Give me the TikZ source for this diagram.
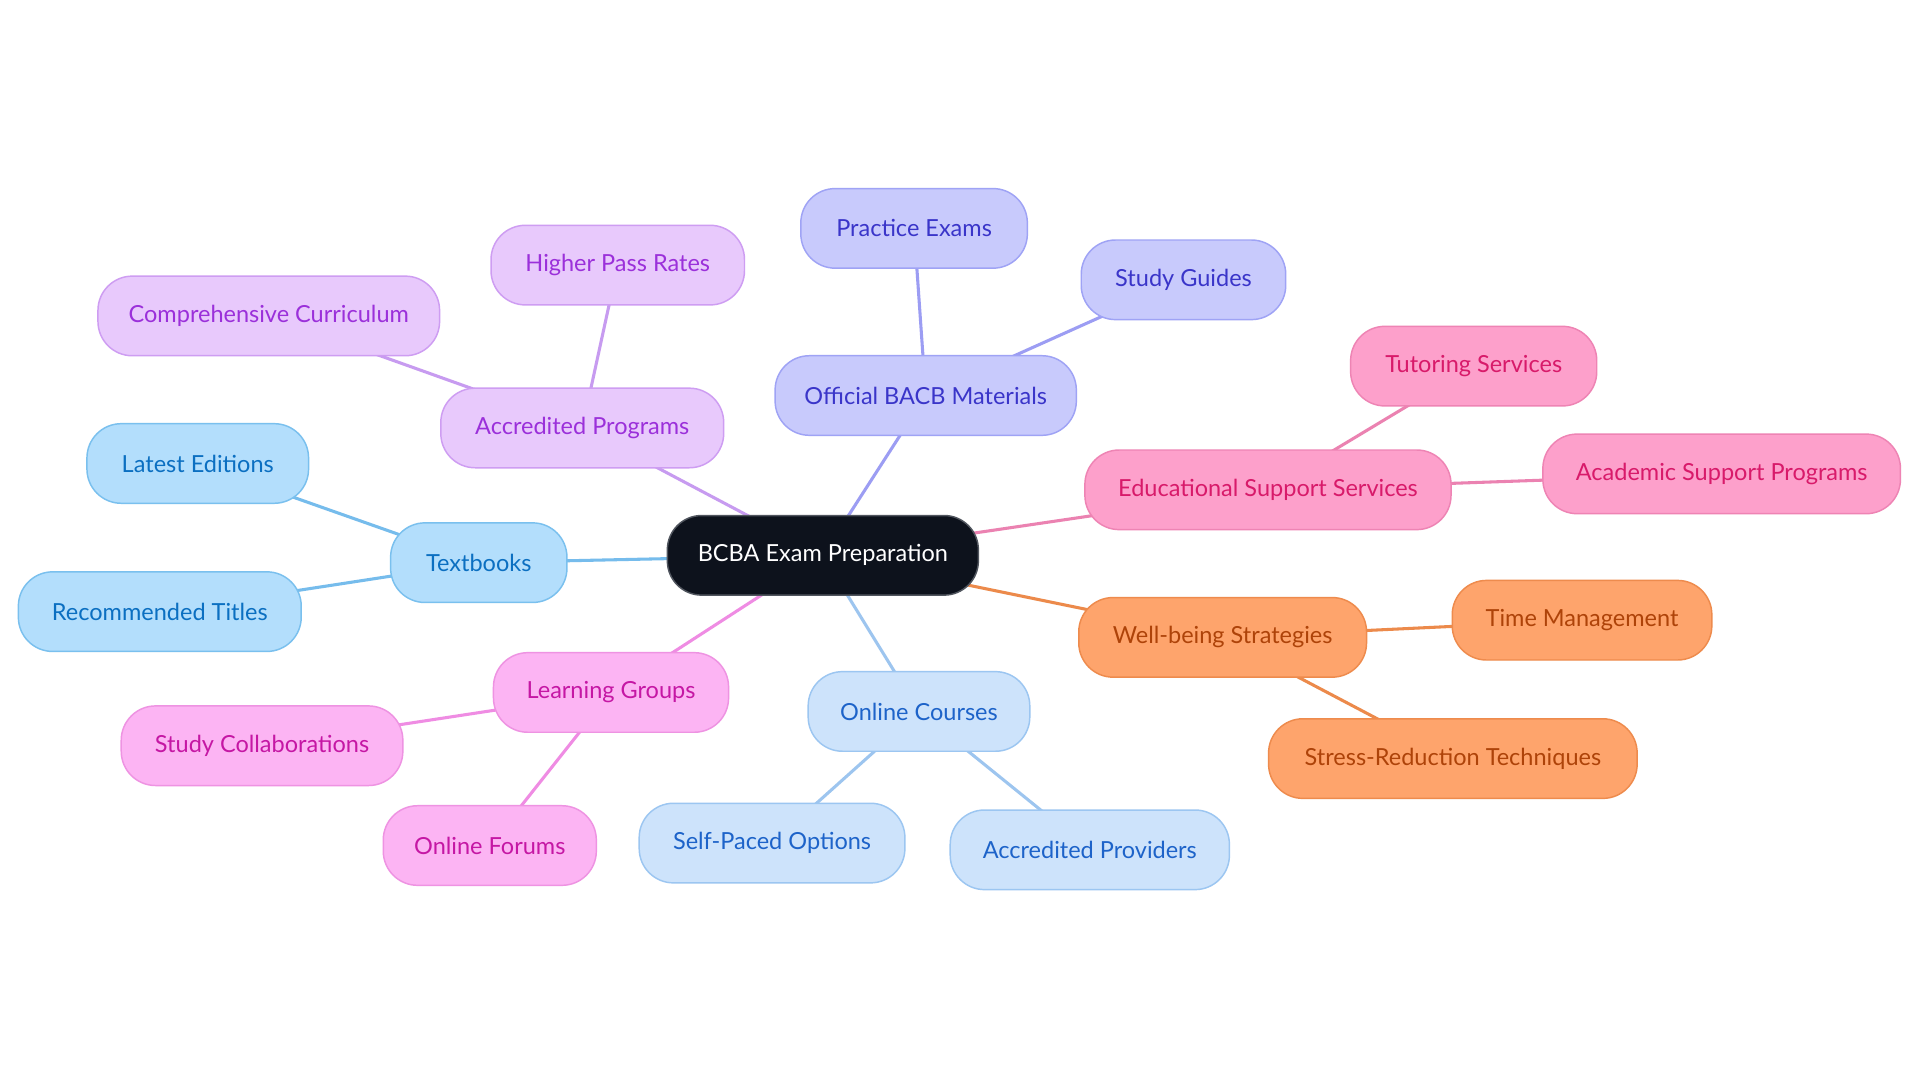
\documentclass[tikz,border=0pt]{standalone}
\usepackage{fontspec}
\setmainfont{Lato}
\usetikzlibrary{backgrounds}
\pgfdeclarelayer{canvas}
\pgfsetlayers{canvas,background,main}
\definecolor{bgW}{HTML}{FFFFFF}
\definecolor{cF}{HTML}{0D121C}\definecolor{cD}{HTML}{50555E}
\definecolor{bF}{HTML}{B3DEFC}\definecolor{bD}{HTML}{7AC0EE}\definecolor{bT}{HTML}{0B6FC1}\definecolor{bE}{HTML}{76BCEC}
\definecolor{pF}{HTML}{E8C9FC}\definecolor{pD}{HTML}{CE9DF2}\definecolor{pT}{HTML}{9B30DA}\definecolor{pE}{HTML}{C79BF0}
\definecolor{iF}{HTML}{C8CAFC}\definecolor{iD}{HTML}{9FA3F5}\definecolor{iT}{HTML}{3A35C9}\definecolor{iE}{HTML}{9C9DF3}
\definecolor{kF}{HTML}{FDA0CB}\definecolor{kD}{HTML}{EE84B4}\definecolor{kT}{HTML}{D81A6A}\definecolor{kE}{HTML}{EB82B1}
\definecolor{oF}{HTML}{FEA46C}\definecolor{oD}{HTML}{EE8B4D}\definecolor{oT}{HTML}{AE4309}\definecolor{oE}{HTML}{EC8A4B}
\definecolor{lF}{HTML}{CDE3FB}\definecolor{lD}{HTML}{9CC6F1}\definecolor{lT}{HTML}{1D63C9}\definecolor{lE}{HTML}{9DC5EF}
\definecolor{mF}{HTML}{FCB4F3}\definecolor{mD}{HTML}{EE93E2}\definecolor{mT}{HTML}{C517A4}\definecolor{mE}{HTML}{EF8CE3}
\tikzset{
  box/.style={rectangle, rounded corners=14pt, minimum height=32.5pt, inner xsep=4pt, line width=0.6pt, font=\fontsize{9.6}{12}\selectfont, anchor=center},
  root/.style={box, fill=cF, draw=cD, text=white},
  bbox/.style={box, fill=bF, draw=bD, text=bT},
  pbox/.style={box, fill=pF, draw=pD, text=pT},
  ibox/.style={box, fill=iF, draw=iD, text=iT},
  kbox/.style={box, fill=kF, draw=kD, text=kT},
  obox/.style={box, fill=oF, draw=oD, text=oT},
  lbox/.style={box, fill=lF, draw=lD, text=lT},
  mbox/.style={box, fill=mF, draw=mD, text=mT},
  link/.style={line width=1.25pt},
}
\begin{document}
\begin{tikzpicture}[x=0.5pt,y=-0.5pt]
\begin{pgfonlayer}{canvas}
\useasboundingbox[fill=bgW] (0,0) rectangle (1568,884.5);
\end{pgfonlayer}
\node[root, minimum width=127pt] (c) at (672,453.5) {BCBA Exam Preparation};
\node[bbox, minimum width=72pt] (tb) at (391,459.5) {Textbooks};
\node[bbox, minimum width=90.5pt] (le) at (161.5,378.5) {Latest Editions};
\node[bbox, minimum width=115.5pt] (rt) at (130.5,499.5) {Recommended Titles};
\node[pbox, minimum width=115.5pt] (ap) at (475.5,349.5) {Accredited Programs};
\node[pbox, minimum width=139.5pt] (cc) at (219.5,258) {Comprehensive Curriculum};
\node[pbox, minimum width=103.5pt] (hp) at (504.5,216.5) {Higher Pass Rates};
\node[ibox, minimum width=123pt] (ob) at (756,323) {Official BACB Materials};
\node[ibox, minimum width=92.5pt] (pe) at (746.5,186.5) {Practice Exams};
\node[ibox, minimum width=83.5pt] (sg) at (966.5,228.5) {Study Guides};
\node[kbox, minimum width=149.5pt] (es) at (1035.5,400) {Educational Support Services};
\node[kbox, minimum width=100.5pt] (ts) at (1203.5,299) {Tutoring Services};
\node[kbox, minimum width=146pt] (as) at (1406,387) {Academic Support Programs};
\node[obox, minimum width=117.5pt] (wb) at (998.5,520.5) {Well-being Strategies};
\node[obox, minimum width=106pt] (tm) at (1292,506.5) {Time Management};
\node[obox, minimum width=150.5pt] (sr) at (1186.5,619.5) {Stress-Reduction Techniques};
\node[lbox, minimum width=90.5pt] (oc) at (750.5,581) {Online Courses};
\node[lbox, minimum width=108.5pt] (sp) at (630.5,688.5) {Self-Paced Options};
\node[lbox, minimum width=114pt] (pv) at (890,694) {Accredited Providers};
\node[mbox, minimum width=96pt] (lg) at (499,565.5) {Learning Groups};
\node[mbox, minimum width=115pt] (sc) at (214,609) {Study Collaborations};
\node[mbox, minimum width=87pt] (of) at (400,690.5) {Online Forums};
\begin{pgfonlayer}{background}
\draw[link, bE] (c.center) -- (tb.center);
\draw[link, bE] (tb.center) -- (le.center);
\draw[link, bE] (tb.center) -- (rt.center);
\draw[link, pE] (c.center) -- (ap.center);
\draw[link, pE] (ap.center) -- (cc.center);
\draw[link, pE] (ap.center) -- (hp.center);
\draw[link, iE] (c.center) -- (ob.center);
\draw[link, iE] (ob.center) -- (pe.center);
\draw[link, iE] (ob.center) -- (sg.center);
\draw[link, kE] (c.center) -- (es.center);
\draw[link, kE] (es.center) -- (ts.center);
\draw[link, kE] (es.center) -- (as.center);
\draw[link, oE] (c.center) -- (wb.center);
\draw[link, oE] (wb.center) -- (tm.center);
\draw[link, oE] (wb.center) -- (sr.center);
\draw[link, lE] (c.center) -- (oc.center);
\draw[link, lE] (oc.center) -- (sp.center);
\draw[link, lE] (oc.center) -- (pv.center);
\draw[link, mE] (c.center) -- (lg.center);
\draw[link, mE] (lg.center) -- (sc.center);
\draw[link, mE] (lg.center) -- (of.center);
\end{pgfonlayer}
\end{tikzpicture}
\end{document}
